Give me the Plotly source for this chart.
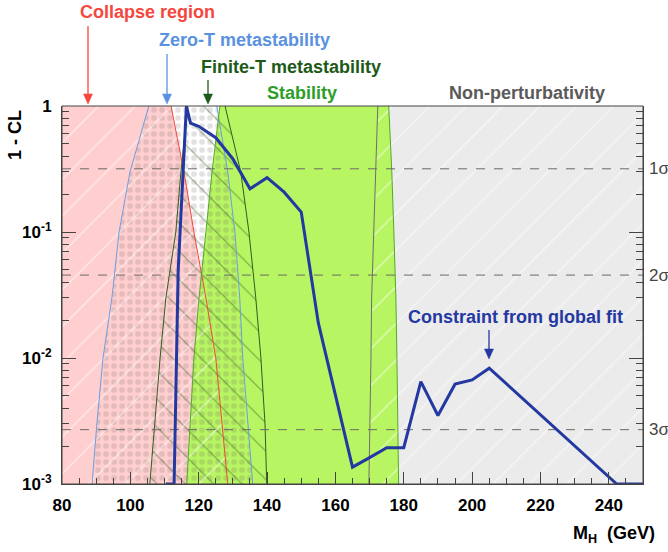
import math
import plotly.graph_objects as go

# ---------------- data ----------------
# 1-CL levels at which each region boundary was read
cl_levels = [1.0, 0.3, 0.1, 0.03, 0.01, 0.003, 0.001]

# M_H (GeV) of each boundary curve at the levels above
collapse_edge = [111.9, 115.7, 118.6, 122.1, 125.0, 126.8, 128.5]
zeroT_left = [105.4, 99.9, 96.7, 94.6, 92.0, 90.2, 88.8]
zeroT_right = [125.3, 128.5, 130.6, 132.0, 132.9, 134.4, 135.8]
finiteT_left = [116.8, 114.8, 113.3, 110.4, 108.7, 107.2, 105.7]
finiteT_right = [127.7, 132.3, 134.7, 136.7, 138.2, 139.4, 139.9]
stab_left = [126.2, 123.9, 122.1, 120.1, 118.6, 117.4, 116.5]
stab_right = [175.6, 176.5, 177.1, 177.7, 178.0, 178.2, 178.5]
nonpert_edge = [172.4, 171.8, 171.2, 170.6, 170.4, 170.1, 169.8]

# global-fit constraint curve
fit_mh = [110.4, 112.8, 114.0, 116.4, 117.6, 120.0, 125.0, 130.0, 135.0, 140.0,
          145.0, 150.0, 155.0, 160.0, 165.0, 170.0, 175.0, 180.0, 185.0, 190.0,
          195.0, 200.0, 205.0, 242.3, 250.0]
fit_cl = [0.001, 0.001, 0.05, 1.0, 0.73, 0.69, 0.56, 0.38, 0.22, 0.27,
          0.207, 0.144, 0.019, 0.0051, 0.00136, 0.00162, 0.00194, 0.00194, 0.0065, 0.0035,
          0.0062, 0.0067, 0.0083, 0.001, 0.001]

sigma_cl = [0.3173, 0.0455, 0.0027]
sigma_labels = ["1σ", "2σ", "3σ"]

x_range = [80, 250]
x_tickvals = [80, 100, 120, 140, 160, 180, 200, 220, 240]
x_minor = [v for v in range(85, 250, 5) if v % 20 != 0]
y_tickvals = [0.001, 0.01, 0.1, 1]
y_ticktext = ["10<sup>-3</sup>", "10<sup>-2</sup>", "10<sup>-1</sup>", "1"]
y_minor = [m * 10.0 ** e for e in (-3, -2, -1) for m in range(2, 10)]

region_labels = ["Collapse region", "Zero-T metastability", "Finite-T metastability",
                 "Stability", "Non-perturbativity", "Constraint from global fit"]

# ---------------- styling ----------------
FONT = "Liberation Sans, Arial, sans-serif"
PINK = "#ffcfcf"
GREEN = "#b8f562"
GRAY = "#ebebeb"
RED = "#f5473d"
LBLUE = "#6a9ee6"
DGREEN = "#2f5e22"
EDGEGREEN = "#55a82a"
GLINE = "#6e6e6e"
BLUE = "#2438a2"

L, R, T, B = 62, 25, 106, 68
W, H = 668, 552
PW, PH = W - L - R, H - T - B


def px_x(p):
    return (p - L) / PW


def px_y(p):
    return (H - B - p) / PH


def poly(left, right):
    xs = list(left) + list(right)[::-1]
    ys = list(cl_levels) + list(cl_levels)[::-1]
    return xs, ys


fig = go.Figure()


def add_fill(xs, ys, color):
    fig.add_trace(go.Scatter(x=xs, y=ys, mode="lines", fill="toself", fillcolor=color,
                             line=dict(width=0), hoverinfo="skip", showlegend=False))


def add_pattern(xs, ys, shape, fg, size, solidity):
    fig.add_trace(go.Scatter(x=xs, y=ys, mode="lines", fill="toself",
                             fillcolor="rgba(0,0,0,0)",
                             fillpattern=dict(shape=shape, fgcolor=fg, bgcolor="rgba(0,0,0,0)",
                                              size=size, solidity=solidity, fillmode="overlay"),
                             line=dict(width=0), hoverinfo="skip", showlegend=False))


def add_line(xs, ys, color, width=1.0):
    fig.add_trace(go.Scatter(x=xs, y=ys, mode="lines", line=dict(color=color, width=width),
                             hoverinfo="skip", showlegend=False))


collapse_x, collapse_y = poly([x_range[0]] * len(cl_levels), collapse_edge)
zero_x, zero_y = poly(zeroT_left, zeroT_right)
fin_x, fin_y = poly(finiteT_left, finiteT_right)
stab_x, stab_y = poly(stab_left, stab_right)
np_x, np_y = poly(nonpert_edge, [x_range[1]] * len(cl_levels))

# base fills
add_fill(np_x, np_y, GRAY)
add_fill(collapse_x, collapse_y, PINK)
add_fill(stab_x, stab_y, GREEN)
# overlay patterns
add_pattern(zero_x, zero_y, ".", "rgba(110,95,95,0.38)", 8, 0.4)
add_pattern(fin_x, fin_y, "\\", DGREEN, 20, 0.06)
add_pattern(collapse_x, collapse_y, "/", "white", 26, 0.06)
add_pattern(np_x, np_y, "/", "white", 26, 0.06)

# boundary lines
add_line(collapse_edge, cl_levels, RED)
add_line(zeroT_left, cl_levels, LBLUE)
add_line(zeroT_right, cl_levels, LBLUE)
add_line(finiteT_left, cl_levels, DGREEN)
add_line(finiteT_right, cl_levels, DGREEN)
add_line(stab_left, cl_levels, EDGEGREEN)
add_line(stab_right, cl_levels, EDGEGREEN)
add_line(nonpert_edge, cl_levels, GLINE)

# sigma lines
for s in sigma_cl:
    fig.add_trace(go.Scatter(x=x_range, y=[s, s], mode="lines",
                             line=dict(color="#6a6a6a", width=1, dash="dash"),
                             hoverinfo="skip", showlegend=False))

# fit curve
fig.add_trace(go.Scatter(x=fit_mh, y=fit_cl, mode="lines", line=dict(color=BLUE, width=3),
                         cliponaxis=False, hoverinfo="skip", showlegend=False))

ann = []


def text(t, cx, cy, color, size=18, bold=True, xanchor="center", angle=0):
    ann.append(dict(text=t, x=px_x(cx), y=px_y(cy), xref="paper", yref="paper",
                    xanchor=xanchor, yanchor="middle", showarrow=False, textangle=angle,
                    font=dict(family=FONT, size=size, color=color,
                              weight="bold" if bold else "normal")))


def arrow(hx, hy, length, color):
    # shaft
    fig.add_shape(type="line", xref="paper", yref="paper",
                  x0=px_x(hx), x1=px_x(hx), y0=px_y(hy - length), y1=px_y(hy - 9),
                  line=dict(color=color, width=1.3), layer="above")
    # head
    path = "M {a},{b} L {c},{d} L {e},{f} Z".format(
        a=px_x(hx - 4.5), b=px_y(hy - 10), c=px_x(hx + 4.5), d=px_y(hy - 10),
        e=px_x(hx), f=px_y(hy))
    fig.add_shape(type="path", xref="paper", yref="paper", path=path,
                  fillcolor=color, line=dict(color=color, width=0.5), layer="above")


label_colors = [RED, "#5a92e0", "#1d5a18", "#2e9e2a", "#5a5a5a", BLUE]
label_pos = [(147, 12), (244, 40), (291, 67), (302, 93), (527, 93), (515, 317)]
for t, c, (cx, cy) in zip(region_labels, label_colors, label_pos):
    text(t, cx, cy, c)

arrow(88, 104, 78, RED)
arrow(167, 104, 50, "#5a92e0")
arrow(208, 104, 24, "#1d5a18")
arrow(489, 359, 29, BLUE)

for lab, s in zip(sigma_labels, sigma_cl):
    ann.append(dict(text=lab, x=1.0, y=(math.log10(s) + 3) / 3,
                    xref="paper", yref="paper", xanchor="left", yanchor="middle",
                    xshift=4, showarrow=False,
                    font=dict(family=FONT, size=17, color="#444444")))

text("1 - CL", 15, 135, "black", size=18, angle=-90)
text("M<sub>H</sub>  (GeV)", 657, 534, "black", size=18, xanchor="right")

fig.add_shape(type="rect", xref="paper", yref="paper", x0=0, x1=1, y0=0, y1=1,
              line=dict(color="#444444", width=1), layer="above")

fig.update_layout(
    width=W, height=H,
    margin=dict(l=L, r=R, t=T, b=B),
    plot_bgcolor="white", paper_bgcolor="white",
    annotations=ann,
    showlegend=False,
    xaxis=dict(range=x_range, tickmode="array", tickvals=x_tickvals,
               ticks="inside", ticklen=12, tickwidth=1, tickcolor="#444444",
               showline=True, linecolor="#444444", linewidth=1, mirror=False,
               showgrid=False, zeroline=False, ticklabelstandoff=6,
               minor=dict(tickvals=x_minor, ticks="inside", ticklen=6, tickcolor="#444444"),
               tickfont=dict(family=FONT, size=17, color="black", weight="bold")),
    yaxis=dict(type="log", range=[-3, 0], tickmode="array", tickvals=y_tickvals,
               ticktext=y_ticktext, ticks="inside", ticklen=14, tickwidth=1,
               tickcolor="#444444", showline=True, linecolor="#444444", linewidth=1,
               mirror="ticks", showgrid=False, zeroline=False, ticklabelstandoff=6,
               minor=dict(tickvals=y_minor, ticks="inside", ticklen=7, tickcolor="#444444"),
               tickfont=dict(family=FONT, size=17, color="black", weight="bold")),
)

fig.write_html("out.html", config={"displayModeBar": False},
               post_script="document.body.style.margin='0px';")
